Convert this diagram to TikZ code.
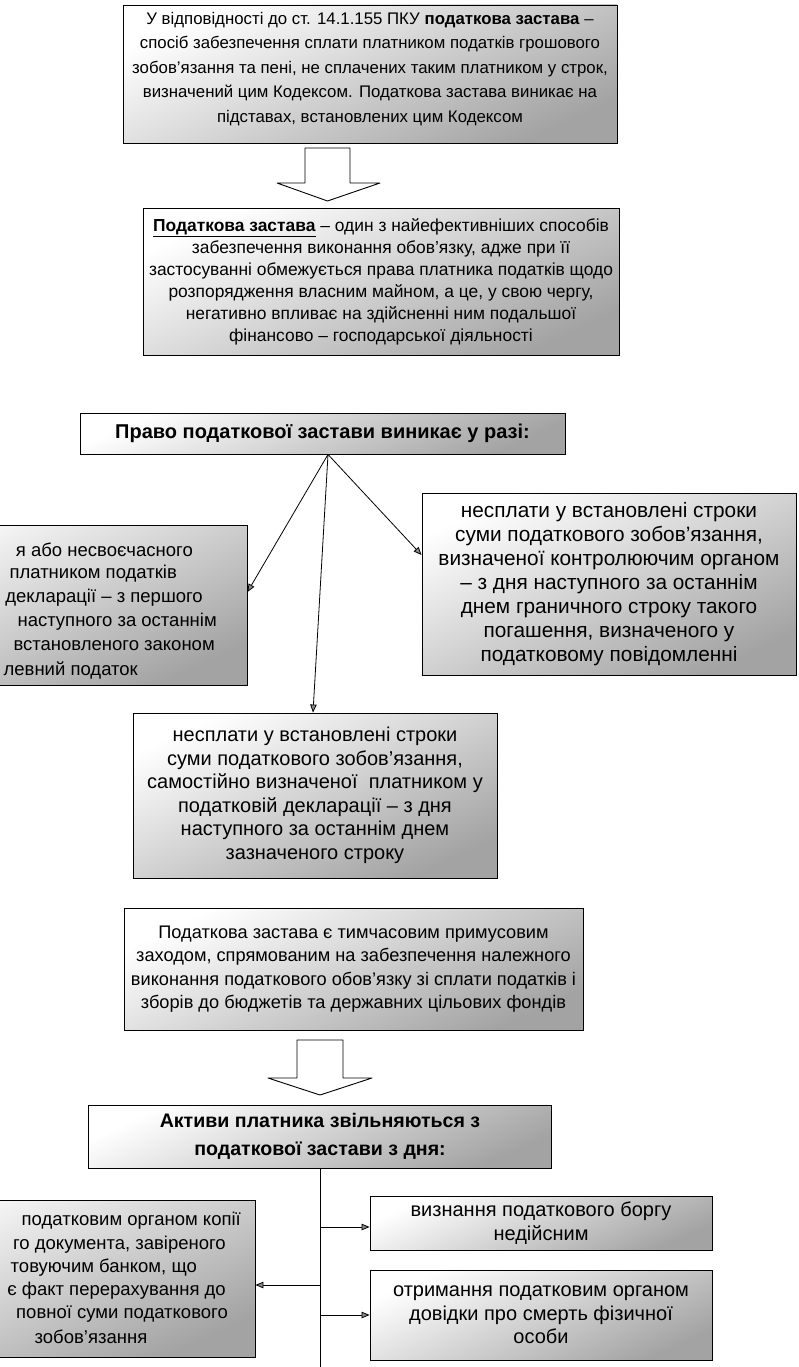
\documentclass[tikz,border=0pt]{standalone}
\usepackage{fontspec}
\setmainfont{Liberation Sans}
\usetikzlibrary{arrows.meta,calc}
\newcommand{\fs}[2]{\fontsize{#1}{#2}\selectfont}
\begin{document}
\begin{tikzpicture}[x=1pt,y=-1pt,
  txt/.style={font=\fs{19}{24}},
  box/.style={draw, line width=0.9pt, rectangle, align=center, inner sep=0pt, txt,
     top color=white, middle color=black!6, bottom color=black!36, shading angle=25},
  frag/.style={anchor=east, inner sep=0pt, font=\fs{18.5}{24}},
  arr/.style={line width=0.8pt, -{Triangle[length=8pt,width=6.5pt,fill=black!45]}},
  hollow/.style={draw, line width=0.9pt, fill=white, line join=round}]
\useasboundingbox (0,0) rectangle (799,1367);
\clip (0,0) rectangle (799,1367);

% definition of the tax lien
\node[box, minimum width=494, minimum height=138, font=\fs{16.8}{24.5}] (def) at (370,74)
 {У відповідності до ст. 14.1.155 ПКУ \textbf{податкова застава} –\\
  спосіб забезпечення сплати платником податків грошового\\
  зобов'язання та пені, не сплачених таким платником у строк,\\
  визначений цим Кодексом. Податкова застава виникає на\\
  підставах, встановлених цим Кодексом\rule[-14pt]{0pt}{0pt}};

\draw[hollow] (305,148) -- (350,148) -- (350,183) -- (380,183) -- (327.5,201)
  -- (277,183) -- (305,183) -- cycle;

\node[box, minimum width=476, minimum height=147, font=\fs{17.4}{22}] (eff) at (381,281.5)
 {\underline{\textbf{Податкова застава}} – один з найефективніших способів\\
  забезпечення виконання обов’язку, адже при її\\
  застосуванні обмежується права платника податків щодо\\
  розпорядження власним майном, а це, у свою чергу,\\
  негативно впливає на здійсненні ним подальшої\\
  фінансово – господарської діяльності};

% when the right arises
\node[box, minimum width=485, minimum height=41, font=\fs{20}{24}] (right) at (322.5,433.5)
 {\textbf{Право податкової застави виникає у разі:}};

\node[box, minimum width=397, minimum height=160] (late) at (48.5,605) {};
\node[frag] (l1) at (193,550) {я або несвоєчасного};
\node[frag] (l2) at (177,574) {платником податків};
\node[frag] (l3) at (203,598) {декларації – з першого};
\node[frag] (l4) at (217,622) {наступного за останнім};
\node[frag] (l5) at (215,646) {встановленого законом};
\node[frag] (l6) at (138,670) {левний податок};

\node[box, minimum width=374, minimum height=182, font=\fs{20.8}{24}] (ctrl) at (609,584)
 {несплати у встановлені строки\\
  суми податкового зобов'язання,\\
  визначеної контролюючим органом\\
  – з дня наступного за останнім\\
  днем граничного строку такого\\
  погашення, визначеного у\\
  податковому повідомленні};

\node[box, minimum width=364, minimum height=165, font=\fs{20}{23.5}] (self) at (315,795.5)
 {несплати у встановлені строки\\
  суми податкового зобов'язання,\\
  самостійно визначеної\ \ платником у\\
  податковій декларації – з дня\\
  наступного за останнім днем\\
  зазначеного строку};

\draw[arr] ([xshift=5.5pt]right.south) -- ([yshift=13pt]late.east);
\draw[arr] ([xshift=5.5pt]right.south) -- ([yshift=29pt]ctrl.west);
\draw[arr] ([xshift=5.5pt]right.south) -- ([xshift=-2pt]self.north);

% temporary measure
\node[box, minimum width=459, minimum height=122, font=\fs{18.2}{23.5}] (temp) at (353.5,969)
 {Податкова застава є тимчасовим примусовим\\
  заходом, спрямованим на забезпечення належного\\
  виконання податкового обов'язку зі сплати податків і\\
  зборів до бюджетів та державних цільових фондів};

\draw[hollow] (297,1040) -- (343,1040) -- (343,1078) -- (372,1078) -- (320,1095)
  -- (268,1078) -- (297,1078) -- cycle;

% release of the assets
\node[box, minimum width=463, minimum height=63, font=\fs{19.6}{28}] (rel) at (320,1136.5)
 {\textbf{Активи платника звільняються з}\\ \textbf{податкової застави з дня:}};

\node[box, minimum width=342, minimum height=54, font=\fs{20}{24}] (void) at (541,1223)
 {визнання податкового боргу\\ недійсним};
\node[box, minimum width=342, minimum height=90, font=\fs{20}{23.5}] (death) at (541,1315)
 {отримання податковим органом\\ довідки про смерть фізичної\\ особи};

\node[box, minimum width=405, minimum height=157] (paid) at (52.5,1278.5) {};
\node[frag] (p1) at (241,1221) {податковим органом копії};
\node[frag] (p2) at (226,1245) {го документа, завіреного};
\node[frag] (p3) at (197,1268) {товуючим банком, що};
\node[frag] (p4) at (226,1291) {є факт перерахування до};
\node[frag] (p5) at (228,1314) {повної суми податкового};
\node[inner sep=0pt, font=\fs{18.5}{24}] (p6) at (91,1337) {зобов'язання};

\coordinate (trunk) at (320,1367);
\draw[line width=0.8pt] (rel.south) -- (trunk);
\draw[arr] ([yshift=-4pt]rel.south |- void.west) -- ([yshift=-4pt]void.west);
\draw[arr] ([yshift=-6.5pt]rel.south |- paid.east) -- ([yshift=-6.5pt]paid.east);
\draw[arr] (rel.south |- death.west) -- (death.west);
\end{tikzpicture}
\end{document}
